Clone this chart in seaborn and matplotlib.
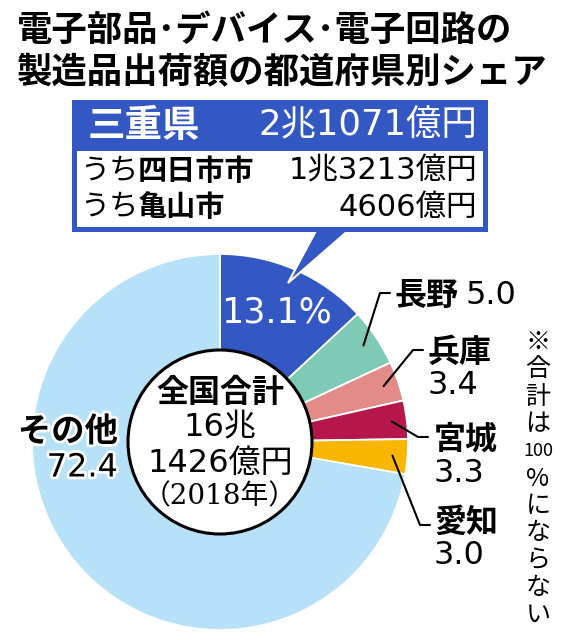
import numpy as np
import matplotlib
matplotlib.use("Agg")
import matplotlib.pyplot as plt
import matplotlib.patches as patches
import matplotlib.patheffects as pe
import seaborn as sns

sns.set_style("white")
plt.rcParams['font.family'] = ['Noto Sans CJK JP', 'DejaVu Sans']
plt.rcParams['text.color'] = 'black'
NUM = ['DejaVu Sans', 'Noto Sans CJK JP']   # wide digits, CJK falls back

# data
prefs = ['三重', '長野', '兵庫', '宮城', '愛知', 'その他']
shares = [13.1, 5.0, 3.4, 3.3, 3.0, 72.4]
pie_colors = sns.color_palette(['#3358c4', '#7ecab6', '#e38b89', '#b5174b', '#f8b600', '#b6e1f8'])
title_lines = ['電子部品･デバイス･電子回路の', '製造品出荷額の都道府県別シェア']
mie_total = '2兆1071億円'
mie_cities = ['四日市市', '亀山市']
mie_city_values = ['1兆3213億円', '4606億円']
national_total = ['全国合計', '16兆', '1426億円', '（2018年）']
note = ['※', '合', '計', 'は', '100', '%', 'に', 'な', 'ら', 'な', 'い']

W, H = 561, 640
def Y(py):
    return H - py

fig = plt.figure(figsize=(W / 100, H / 100), dpi=100)
ax = fig.add_axes([0, 0, 1, 1])

cx, cy, R = 220, Y(442), 188
wedges, _ = ax.pie(shares, startangle=90, counterclock=False, colors=pie_colors,
                   center=(cx, cy), radius=R, frame=True,
                   wedgeprops=dict(edgecolor='white', linewidth=1.3))
ax.set_xlim(0, W)
ax.set_ylim(0, H)
ax.set_aspect('equal')
ax.axis('off')

def mid_point(w, r):
    a = np.deg2rad((w.theta1 + w.theta2) / 2)
    return cx + r * np.cos(a), cy + r * np.sin(a)

# inner white circle
ax.add_patch(patches.Circle((cx, cy), 92, facecolor='white', edgecolor='black', lw=2.2, zorder=5))
ax.text(cx, Y(393), national_total[0], ha='center', va='center', fontsize=23, fontweight='bold', zorder=6)
ax.text(cx, Y(428), national_total[1], ha='center', va='center', fontsize=23, family=NUM, zorder=6)
ax.text(cx, Y(463), national_total[2], ha='center', va='center', fontsize=23, family=NUM, zorder=6)
ax.text(cx, Y(497), national_total[3], ha='center', va='center', fontsize=20, zorder=6,
        family=['DejaVu Serif', 'Noto Sans CJK JP'])

# 13.1% inside the blue wedge
px, py = mid_point(wedges[0], 0.75 * R)
ax.text(px, py, f'{shares[0]}%', ha='center', va='center', color='white', fontsize=25, family=NUM)

# other prefectures with leader lines
elbows = [(380, 293), (413, 350), (418, 437), (420, 525)]
label_pos = [(395, 296), (428, 353), (434, 440), (434, 523)]
for i in range(1, 5):
    ax_, ay_ = mid_point(wedges[i], 0.92 * R)
    ex, ey = elbows[i - 1]
    ax.plot([ax_, ex, ex + 10], [ay_, Y(ey), Y(ey)], color='black', lw=1.5, zorder=7)
    tx, ty = label_pos[i - 1]
    ax.text(tx, Y(ty), prefs[i], ha='left', va='center', fontsize=23, fontweight='bold')
    if i == 1:
        ax.text(tx + 71, Y(ty), f'{shares[i]:.1f}', ha='left', va='center', fontsize=23, family=NUM)
    else:
        ax.text(tx, Y(ty + 33), f'{shares[i]:.1f}', ha='left', va='center', fontsize=23, family=NUM)

# その他
halo = [pe.withStroke(linewidth=4, foreground='white')]
ax.text(118, Y(432), prefs[5], ha='right', va='center', fontsize=24, fontweight='bold',
        path_effects=halo, zorder=8)
ax.text(118, Y(468), f'{shares[5]:.1f}', ha='right', va='center', fontsize=23, family=NUM,
        path_effects=halo, zorder=8)

# title
for k, line in enumerate(title_lines):
    ax.text(17, Y(30 + 42 * k), line, ha='left', va='center', fontsize=25.5, fontweight='bold')

# callout box
blue = pie_colors[0]
ax.add_patch(patches.Polygon([(317, Y(229)), (350, Y(229)), (288, Y(283))], closed=True,
                             facecolor=blue, edgecolor='white', lw=1.5, zorder=3))
ax.add_patch(patches.Rectangle((72, Y(232)), 416, 132, facecolor=blue, edgecolor='none', zorder=4))
ax.add_patch(patches.Rectangle((77, Y(227)), 406, 76, facecolor='white', edgecolor='none', zorder=4))
ax.text(88, Y(125), '三重県', ha='left', va='center', color='white', fontsize=27, fontweight='bold', zorder=5)
ax.text(477, Y(125), mie_total, ha='right', va='center', color='white', fontsize=25.5,
        family=NUM, zorder=5)
for k in range(2):
    yy = Y(171 + 36 * k)
    ax.text(80, yy, 'うち', ha='left', va='center', fontsize=21, zorder=5)
    ax.text(138, yy, mie_cities[k], ha='left', va='center', fontsize=21, fontweight='bold', zorder=5)
    ax.text(477, yy, mie_city_values[k], ha='right', va='center', fontsize=22, family=NUM, zorder=5)

# vertical note
for k, ch in enumerate(note):
    fs = 13 if ch == '100' else 18
    ax.text(538, Y(342 + 27.3 * k), ch, ha='center', va='center', fontsize=fs)

plt.savefig('out.png', dpi=100)
